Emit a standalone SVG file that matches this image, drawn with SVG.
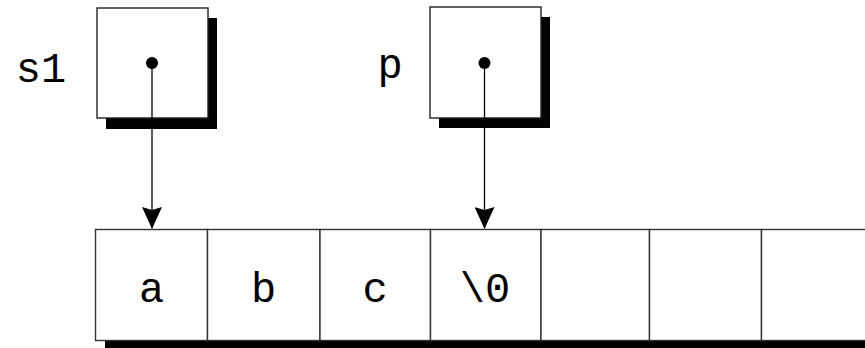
<svg xmlns="http://www.w3.org/2000/svg" width="865" height="348" viewBox="0 0 865 348">
<defs>
<style>
.box{fill:#fff;stroke:#222;stroke-width:1.4}
.shadow{fill:#000}
.cell{fill:#fff;stroke:#333;stroke-width:1.4}
.lbl{font-family:"Liberation Mono","Courier New",monospace;font-size:42px;fill:#000}
.conn{stroke:#000;stroke-width:1.3;fill:none}
</style>
<marker id="arr" viewBox="0 0 22 20" refX="21" refY="10" markerWidth="22" markerHeight="20" markerUnits="userSpaceOnUse" orient="auto">
<path d="M0,0 L3,10 L0,20 L22,10 Z" fill="#000"/>
</marker>
</defs>
<rect width="865" height="348" fill="#fff"/>
<g id="node-s1">
<rect class="shadow" x="106" y="18" width="111" height="111"/>
<rect class="box" x="97" y="8" width="111" height="110"/>
<text class="lbl" x="41" y="82" text-anchor="middle">s1</text>
</g>
<g id="node-p">
<rect class="shadow" x="439" y="17" width="111" height="111"/>
<rect class="box" x="430" y="7" width="111" height="111"/>
<text class="lbl" x="390" y="78" text-anchor="middle">p</text>
</g>
<g id="node-array">
<rect class="shadow" x="105" y="340" width="780" height="20"/>
<rect class="cell" x="95.5" y="229.5" width="112" height="111"/>
<rect class="cell" x="207.5" y="229.5" width="112.5" height="111"/>
<rect class="cell" x="320" y="229.5" width="110.5" height="111"/>
<rect class="cell" x="430.5" y="229.5" width="110.5" height="111"/>
<rect class="cell" x="541" y="229.5" width="108.5" height="111"/>
<rect class="cell" x="649.5" y="229.5" width="112" height="111"/>
<rect class="cell" x="761.5" y="229.5" width="112" height="111"/>
<text class="lbl" x="151.5" y="302" text-anchor="middle">a</text>
<text class="lbl" x="263.5" y="302" text-anchor="middle">b</text>
<text class="lbl" x="375" y="302" text-anchor="middle">c</text>
<text class="lbl" x="485" y="302" text-anchor="middle">\0</text>
</g>
<g id="connectors">
<circle cx="152" cy="63" r="6" fill="#000"/>
<line class="conn" x1="152" y1="63" x2="152" y2="228" marker-end="url(#arr)"/>
<circle cx="484.5" cy="63" r="6" fill="#000"/>
<line class="conn" x1="484.5" y1="63" x2="484.5" y2="228" marker-end="url(#arr)"/>
</g>
</svg>
